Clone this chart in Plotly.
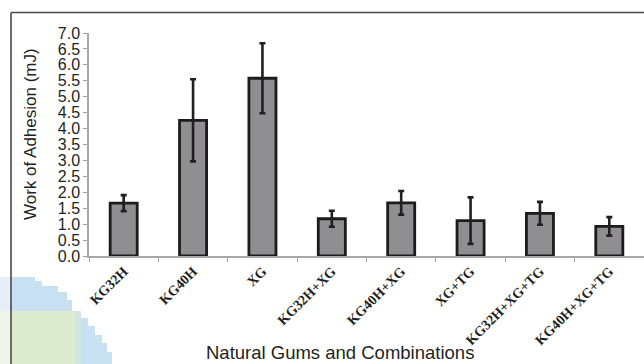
import plotly.graph_objects as go

categories = ["KG32H", "KG40H", "XG", "KG32H+XG", "KG40H+XG", "XG+TG", "KG32H+XG+TG", "KG40H+XG+TG"]
work_of_adhesion = [1.66, 4.26, 5.58, 1.17, 1.67, 1.11, 1.34, 0.93]
std_dev = [0.25, 1.29, 1.10, 0.25, 0.37, 0.73, 0.36, 0.29]
y_ticks = [0.0, 0.5, 1.0, 1.5, 2.0, 2.5, 3.0, 3.5, 4.0, 4.5, 5.0, 5.5, 6.0, 6.5, 7.0]

W, H = 644, 364
L, R, T, B = 89, 0, 33, 108
PW, PH = W - L - R, H - T - B


def px(x):
    return (x - L) / PW


def py(y):
    return (H - B - y) / PH


fig = go.Figure()
fig.add_trace(go.Bar(
    x=categories,
    y=work_of_adhesion,
    width=0.39,
    marker=dict(color="#8f8f92", line=dict(color="#1e1b1c", width=2.8)),
    error_y=dict(type="data", array=std_dev, visible=True, color="#231f20", thickness=2.6, width=3),
))

shapes = []
# faint watermark in the lower-left corner
shapes.append(dict(type="rect", xref="paper", yref="paper", x0=px(0), x1=px(11), y0=py(277), y1=py(311),
                   fillcolor="#e7eef8", line=dict(width=0), layer="below"))
shapes.append(dict(type="rect", xref="paper", yref="paper", x0=px(0), x1=px(11), y0=py(311), y1=py(364),
                   fillcolor="#eef5ea", line=dict(width=0), layer="below"))
stairs = [(11, 277), (35, 277), (35, 281), (42, 281), (42, 286), (58, 286), (58, 292), (67, 292), (67, 300),
          (72, 300), (72, 311), (80, 311), (80, 318), (88, 318), (88, 326), (95, 326), (95, 335), (102, 335),
          (102, 343), (107, 343), (107, 352), (112, 352), (112, 364), (11, 364)]
path = "M " + " L ".join(f"{px(a):.5f},{py(b):.5f}" for a, b in stairs) + " Z"
shapes.append(dict(type="path", xref="paper", yref="paper", path=path,
                   fillcolor="#c8e1f2", line=dict(width=0), layer="below"))
shapes.append(dict(type="rect", xref="paper", yref="paper", x0=px(11), x1=px(75), y0=py(311), y1=py(364),
                   fillcolor="#ddecd1", line=dict(width=0), layer="below"))
shapes.append(dict(type="rect", xref="paper", yref="paper", x0=px(75), x1=px(81), y0=py(311), y1=py(364),
                   fillcolor="#cfe6e2", line=dict(width=0), layer="below"))
# outer frame (top and left visible)
shapes.append(dict(type="line", xref="paper", yref="paper", x0=px(11), x1=px(11), y0=py(365), y1=py(12.5),
                   line=dict(color="#4a4a4a", width=1.6), layer="above"))
shapes.append(dict(type="line", xref="paper", yref="paper", x0=px(11), x1=px(645), y0=py(12.5), y1=py(12.5),
                   line=dict(color="#4a4a4a", width=1.6), layer="above"))

fig.update_layout(
    width=W, height=H,
    margin=dict(l=L, r=R, t=T, b=B, autoexpand=False),
    paper_bgcolor="white", plot_bgcolor="white",
    showlegend=False,
    shapes=shapes,
    annotations=[
        dict(text="Work of Adhesion (mJ)", xref="paper", yref="paper", x=px(30), y=py(134),
             showarrow=False, textangle=-90, xanchor="center", yanchor="middle",
             font=dict(family="Liberation Sans, Arial", size=17, color="#231f20")),
        dict(text="Natural Gums and Combinations", xref="paper", yref="paper", x=px(340), y=py(352),
             showarrow=False, xanchor="center", yanchor="middle",
             font=dict(family="Liberation Sans, Arial", size=18.5, color="#231f20")),
    ],
)
fig.update_xaxes(
    type="category", tickson="boundaries", ticks="outside", ticklen=4, tickcolor="#a0a0a0", tickwidth=1.3,
    showline=True, linecolor="#a8a8a8", linewidth=1.5, showgrid=False, zeroline=False, automargin=False,
    tickangle=-45,
    tickfont=dict(family="Liberation Serif, Times New Roman", size=14, color="#231f20", weight="bold"),
)
fig.update_yaxes(
    range=[0, 7], tickvals=y_ticks, ticktext=[f"{v:.1f}" for v in y_ticks], automargin=False,
    ticks="outside", ticklen=4, tickcolor="#a0a0a0", tickwidth=1.3,
    showline=True, linecolor="#a8a8a8", linewidth=1.5, showgrid=False, zeroline=False,
    tickfont=dict(family="Liberation Sans, Arial", size=16, color="#231f20"),
)

fig.write_html(
    "out.html",
    config={"displayModeBar": False},
    post_script="document.body.style.margin='0';document.body.style.overflow='hidden';",
)
